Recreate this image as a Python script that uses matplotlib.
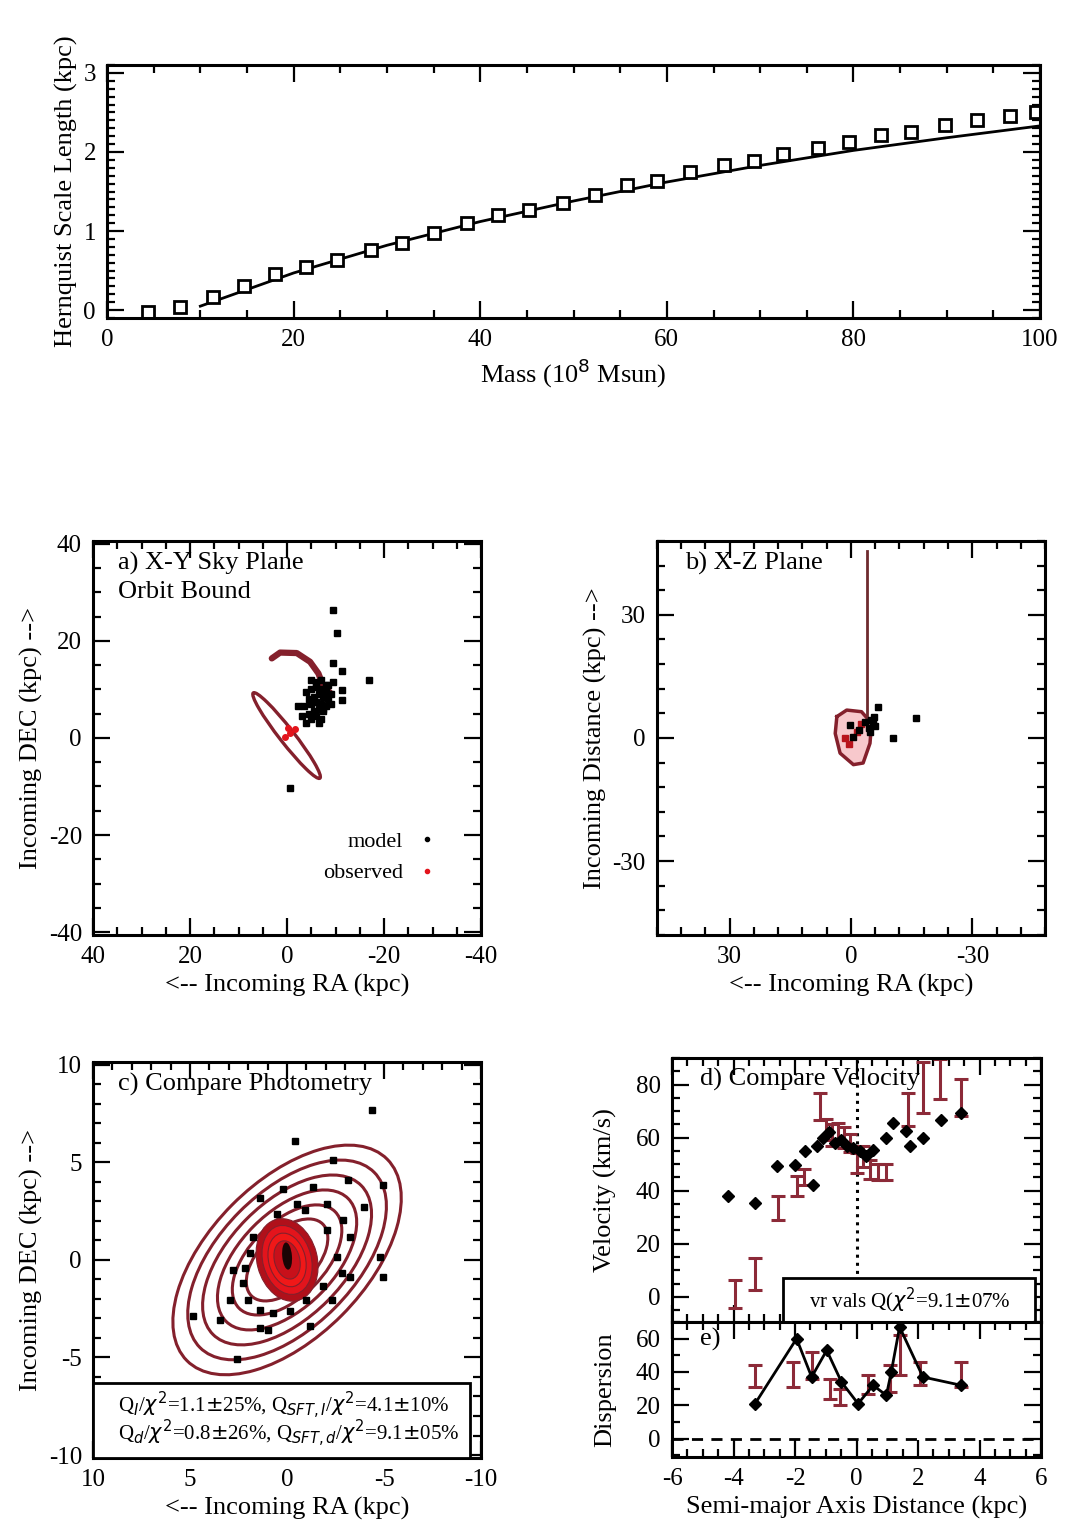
import matplotlib
matplotlib.use("Agg")
import matplotlib.pyplot as plt
from matplotlib.patches import Ellipse, Rectangle
from matplotlib.ticker import MultipleLocator
from matplotlib.lines import Line2D

plt.rcParams['font.family'] = ['Liberation Serif', 'DejaVu Serif']
plt.rcParams['font.size'] = 19
plt.rcParams['axes.linewidth'] = 2.2
plt.rcParams['axes.unicode_minus'] = False

DRED = "#84202c"
RED = "#e3141c"

# ---- top panel: scale length vs mass
mass = [4.4, 7.8, 11.4, 14.7, 18.0, 21.3, 24.6, 28.3, 31.6, 35.0, 38.6, 41.9, 45.2, 48.9, 52.3,
        55.7, 58.9, 62.5, 66.1, 69.3, 72.5, 76.2, 79.5, 82.9, 86.2, 89.8, 93.2, 96.8, 99.6]
scale = [-0.02, 0.04, 0.17, 0.30, 0.46, 0.55, 0.63, 0.76, 0.85, 0.97, 1.10, 1.20, 1.27, 1.35, 1.46,
         1.58, 1.63, 1.75, 1.83, 1.88, 1.98, 2.05, 2.13, 2.22, 2.25, 2.34, 2.41, 2.45, 2.50]
fit_mass = [10, 20, 30, 40, 50, 60, 70, 80, 90, 100]
fit_scale = [0.05, 0.47, 0.82, 1.12, 1.38, 1.62, 1.83, 2.02, 2.18, 2.33]

# ---- panel a: X-Y sky plane
a_mod_x = [-9.5, -10.2, -9.5, -11.3, -16.8, -11.3, -11.3, -0.6, -2.3,
           -4.0, -5.0, -6.0, -7.0, -8.0, -9.0, -4.5, -5.5, -6.5, -7.5, -8.5, -3.5, -5.0, -6.0,
           -7.0, -8.0, -4.5, -5.5, -6.5, -7.5, -5.0, -6.0, -7.0, -6.5, -8.5, -9.5, -3.0, -4.0,
           -6.0, -7.0, -8.0, -5.0, -9.0, -7.5]
a_mod_y = [26.4, 21.6, 15.4, 13.7, 12.0, 9.9, 7.8, -10.4, 6.5,
           9.5, 10.0, 10.5, 10.0, 9.5, 9.0, 8.0, 8.5, 9.0, 8.5, 8.0, 6.5, 7.0, 7.5,
           7.0, 6.5, 5.0, 5.5, 6.0, 5.5, 4.0, 4.5, 4.0, 3.0, 11.0, 11.5, 4.5, 3.0,
           11.5, 12.0, 11.0, 12.0, 7.0, 6.0]
a_obs_x = [-0.6, 0.4, -1.6, -0.2]
a_obs_y = [1.1, 0.3, 1.8, 2.0]
a_arc_x = [3.15, 1.44, -2.0, -4.74, -6.46, -7.5, -8.9]
a_arc_y = [16.4, 17.6, 17.5, 15.7, 13.3, 10.6, 9.3]

# ---- panel b: X-Z plane
b_line_x = [-3.9, -3.9]
b_line_z = [45.5, 5.2]
b_loop_x = [3.5, 1.06, -2.6, -5.1, -4.7, -3.0, -0.6, 2.7, 3.9, 3.5]
b_loop_z = [5.2, 6.8, 6.4, 3.6, -1.3, -6.1, -6.5, -3.7, 1.1, 5.2]
b_mod_x = [-5.5, -5.0, -6.0, -4.5, -6.7, -16.1, -10.4, 0.2, -0.6, -2.0, -3.5, -5.8, -4.8]
b_mod_z = [3.6, 4.5, 3.0, 2.5, 7.6, 4.8, -0.1, 3.1, 0.3, 2.0, 4.0, 5.0, 1.5]
b_obs_x = [-1.5, 0.5, -2.5, 1.5]
b_obs_z = [1.5, -1.5, 3.5, 0.0]

# ---- panel c: photometry contours (semi-axes in kpc) and model particles
c_major = [7.3, 6.35, 5.4, 4.45, 3.5, 2.6]
c_minor = [4.0, 3.48, 2.96, 2.44, 1.92, 1.44]
c_core_w = [3.1, 2.5, 1.9, 1.3]
c_core_h = [4.3, 3.6, 2.8, 2.0]
c_core_col = ["#b0101a", RED, "#f01818", "#c8101a"]
c_mod_x = [-0.41, -2.35, -3.16, -4.96, -1.36, 0.19, 1.39, -0.93, -2.04, -2.90, -3.25, -2.56,
           -2.82, -1.87, -1.0, -0.15, 0.70, 1.39, 1.99, 2.25, 2.17, 1.91, 1.74, 2.94, 2.77,
           1.39, 0.96, -3.25, 3.45, 4.83, 2.60, -4.96, -4.79, -3.94, 0.53, -0.5, -2.04, -2.3,
           -1.19, -4.4]
c_mod_y = [6.12, 5.14, 4.08, 3.83, 3.74, 3.66, 3.15, 2.55, 2.89, 2.04, 1.19, 0.17,
           -0.68, -1.36, -2.04, -2.64, -2.72, -2.55, -2.04, -1.19, -0.43, 0.34, 1.19, -2.04, -0.51,
           -3.49, -3.57, -0.85, -3.06, -2.89, -5.10, -0.85, 0.17, 2.72, 2.38, 2.89, 1.53, -2.04,
           -3.40, 7.7]

# ---- panel d: velocity along semi-major axis
v_obs_x = [-3.95, -3.3, -2.55, -1.95, -1.7, -1.2, -1.0, -0.8, -0.6, -0.4, -0.2, 0.0, 0.2,
           0.45, 0.7, 0.95, 1.68, 2.16, 2.7, 3.41]
v_obs_y = [1.0, 8.5, 33.4, 41.6, 45.0, 71.8, 63.0, 61.0, 62.0, 60.0, 58.0, 50.4, 53.0,
           48.0, 47.0, 47.0, 70.6, 78.8, 82.0, 75.0]
v_obs_err = [5.4, 6.0, 4.4, 3.8, 3.0, 5.0, 4.0, 4.0, 3.5, 4.0, 3.5, 3.8, 4.0,
             3.5, 3.0, 3.0, 6.3, 9.5, 7.6, 6.9]
v_mod_x = [-4.17, -3.3, -2.6, -2.0, -1.68, -1.41, -1.3, -1.1, -0.9, -0.7, -0.5, -0.3, -0.1,
           0.1, 0.3, 0.54, 0.97, 1.19, 1.62, 1.73, 2.16, 2.76, 3.41]
v_mod_y = [37.8, 35.3, 49.1, 49.8, 54.8, 42.2, 57, 60, 62, 58, 59, 57, 56,
           55, 53, 55.5, 59.9, 65.6, 62.4, 56.7, 59.9, 66.8, 69.3]

# ---- panel e: dispersion
s_obs_x = [-3.3, -2.06, -1.46, -0.87, -0.54, 0.38, 1.08, 1.4, 2.05, 3.41]
s_obs_y = [37.5, 38.5, 44, 30, 25, 32.5, 36, 50, 39, 38.5]
s_obs_err = [6.5, 7.5, 8, 6, 5, 5.5, 8, 12, 7, 7.5]
s_mod_x = [-3.3, -1.95, -1.46, -0.97, -0.49, 0.05, 0.54, 0.97, 1.13, 1.4, 2.16, 3.41]
s_mod_y = [21, 60, 37, 53, 34, 21, 32, 26, 40, 67, 37, 32]


def style(ax, xmaj, xmin, ymaj, ymin):
    ax.xaxis.set_major_locator(MultipleLocator(xmaj))
    ax.xaxis.set_minor_locator(MultipleLocator(xmin))
    ax.yaxis.set_major_locator(MultipleLocator(ymaj))
    ax.yaxis.set_minor_locator(MultipleLocator(ymin))
    ax.tick_params(which='both', direction='in', top=True, right=True, width=1.6)
    ax.tick_params(which='major', length=12, pad=8, labelsize=18)
    ax.tick_params(which='minor', length=6)


fig = plt.figure(figsize=(10.77, 15.26), dpi=100)

# top
ax0 = fig.add_axes([0.0994, 0.7916, 0.8663, 0.1658])
ax0.plot(fit_mass, fit_scale, color='k', lw=2)
ax0.plot(mass, scale, ls='none', marker='s', ms=9, mfc='white', mec='k', mew=2)
ax0.set_xlim(0, 100); ax0.set_ylim(-0.1, 3.1)
style(ax0, 20, 5, 1, 0.1)
ax0.set_xlabel("Mass (10$^8$ Msun)")
ax0.set_ylabel("Hernquist Scale Length (kpc)")

# a
axa = fig.add_axes([0.0864, 0.3873, 0.3603, 0.2582])
axa.add_patch(Ellipse((0.1, 0.5), 22.3, 3.0, angle=52, fill=False, ec=DRED, lw=2.4))
axa.plot(a_arc_x, a_arc_y, color=DRED, lw=4.5, solid_capstyle='round')
axa.plot(a_mod_x, a_mod_y, ls='none', marker='s', ms=5, color='k')
axa.plot(a_obs_x, a_obs_y, ls='none', marker='o', ms=4, color=RED)
axa.set_xlim(40, -40); axa.set_ylim(-40.6, 40.6)
style(axa, 20, 5, 20, 5)
axa.set_xlabel("<-- Incoming RA (kpc)")
axa.set_ylabel("Incoming DEC (kpc) -->")
axa.text(0.064, 0.944, "a) X-Y Sky Plane", transform=axa.transAxes, va='center')
axa.text(0.064, 0.871, "Orbit Bound", transform=axa.transAxes, va='center')
hands = [Line2D([], [], ls='none', marker='o', ms=3, color='k', label='model'),
         Line2D([], [], ls='none', marker='o', ms=3, color=RED, label='observed')]
axa.legend(handles=hands, loc='lower right', bbox_to_anchor=(0.93, 0.08), markerfirst=False,
           frameon=False, handlelength=0.6, handletextpad=0.8, fontsize=16, labelspacing=0.5)

# b
axb = fig.add_axes([0.6100, 0.3873, 0.3603, 0.2582])
axb.fill(b_loop_x, b_loop_z, color='#f7c8cc', lw=0)
axb.plot(b_loop_x, b_loop_z, color=DRED, lw=2.5)
axb.plot(b_line_x, b_line_z, color="#6e2a2e", lw=2)
axb.plot(b_obs_x, b_obs_z, ls='none', marker='s', ms=4, color="#b8141c")
axb.plot(b_mod_x, b_mod_z, ls='none', marker='s', ms=4, color='k')
axb.set_xlim(48, -48); axb.set_ylim(-48, 48)
style(axb, 30, 6, 30, 6)
axb.set_xlabel("<-- Incoming RA (kpc)")
axb.set_ylabel("Incoming Distance (kpc) -->")
axb.text(0.072, 0.944, "b) X-Z Plane", transform=axb.transAxes, va='center')

# c
axc = fig.add_axes([0.0864, 0.0446, 0.3603, 0.2595])
for a_, b_ in zip(c_major, c_minor):
    axc.add_patch(Ellipse((0, 0), 2 * a_, 2 * b_, angle=135, fill=False, ec=DRED, lw=2.2))
for w, h, col in zip(c_core_w, c_core_h, c_core_col):
    axc.add_patch(Ellipse((0, 0), w, h, angle=165, fc=col, ec=DRED, lw=0.8))
axc.add_patch(Ellipse((0, 0.2), 0.5, 1.4, angle=175, fc='#1a0505', ec='none'))
axc.plot(c_mod_x, c_mod_y, ls='none', marker='s', ms=4, color='k')
axc.set_xlim(10, -10); axc.set_ylim(-10.15, 10.15)
style(axc, 5, 1, 5, 1)
axc.set_xlabel("<-- Incoming RA (kpc)")
axc.set_ylabel("Incoming DEC (kpc) -->")
axc.text(0.064, 0.942, "c) Compare Photometry", transform=axc.transAxes, va='center')
axc.add_patch(Rectangle((0, 0), 0.972, 0.19, transform=axc.transAxes, fc='white',
                        ec='k', lw=2, zorder=5))
axc.text(0.064, 0.134, r"Q$_I$/$\chi^2$=1.1$\pm$25%, Q$_{SFT,I}$/$\chi^2$=4.1$\pm$10%",
         transform=axc.transAxes, va='center', fontsize=15, zorder=6)
axc.text(0.064, 0.062, r"Q$_d$/$\chi^2$=0.8$\pm$26%, Q$_{SFT,d}$/$\chi^2$=9.1$\pm$05%",
         transform=axc.transAxes, va='center', fontsize=15, zorder=6)

# d
axd = fig.add_axes([0.6240, 0.1337, 0.3426, 0.1730])
axd.axvline(0, color='k', ls=':', lw=2.2)
axd.errorbar(v_obs_x, v_obs_y, yerr=v_obs_err, fmt='none', ecolor="#8c2a38", elinewidth=2.2,
             capsize=5, capthick=2.2)
axd.plot(v_mod_x, v_mod_y, ls='none', marker='D', ms=6, color='k')
axd.set_xlim(-6, 6); axd.set_ylim(-9.5, 90)
style(axd, 2, 0.5, 20, 5)
axd.tick_params(labelbottom=False)
axd.set_ylabel("Velocity (km/s)")
axd.text(0.076, 0.917, "d) Compare Velocity", transform=axd.transAxes, va='center')
axd.add_patch(Rectangle((0.30, -0.01), 0.683, 0.176, transform=axd.transAxes, fc='white',
                        ec='k', lw=2, zorder=5))
axd.text(0.644, 0.082, r"vr vals Q($\chi^2$=9.1$\pm$07%", transform=axd.transAxes,
         ha='center', va='center', fontsize=15, zorder=6)

# e
axe = fig.add_axes([0.6240, 0.0452, 0.3426, 0.0885])
axe.axhline(0, color='k', ls='--', lw=2, dashes=(4, 3))
axe.errorbar(s_obs_x, s_obs_y, yerr=s_obs_err, fmt='none', ecolor="#8c2a38", elinewidth=2.2,
             capsize=5, capthick=2.2)
axe.plot(s_mod_x, s_mod_y, color='k', lw=2, marker='D', ms=6)
axe.set_xlim(-6, 6); axe.set_ylim(-11, 70)
style(axe, 2, 0.5, 20, 10)
axe.set_xlabel("Semi-major Axis Distance (kpc)")
axe.set_ylabel("Dispersion")
axe.text(0.076, 0.867, "e)", transform=axe.transAxes, va='center')

for ax in (axd, axe):
    ax.yaxis.set_label_coords(-0.15, 0.5)

fig.savefig("out.png", dpi=100)
